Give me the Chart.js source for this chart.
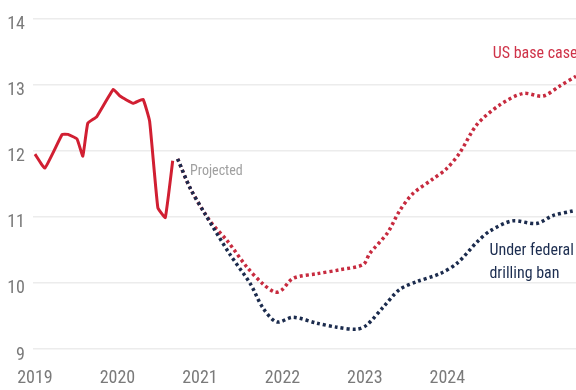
<!DOCTYPE html>
<html>
<head>
<meta charset="utf-8">
<script src="https://cdn.jsdelivr.net/npm/chart.js@4"></script>
<style>
  html, body { margin: 0; padding: 0; background: #fff; }
  #wrap { width: 576px; height: 390px; position: relative; }
</style>
</head>
<body>
<div id="wrap"><canvas id="chart"></canvas></div>
<script>
// values (x in decimal years)
const histX = [2019.0, 2019.12, 2019.33, 2019.4, 2019.51, 2019.58, 2019.64, 2019.75, 2019.95, 2020.03, 2020.19, 2020.31, 2020.39, 2020.49, 2020.58, 2020.67];
const histY = [11.95, 11.74, 12.25, 12.25, 12.18, 11.92, 12.42, 12.52, 12.93, 12.83, 12.72, 12.78, 12.45, 11.14, 10.99, 11.85];

const baseX = [2020.73, 2020.88, 2021.12, 2021.33, 2021.57, 2021.76, 2021.91, 2021.99, 2022.13, 2022.42, 2022.7, 2022.98, 2023.06, 2023.27, 2023.42, 2023.58, 2023.82, 2023.99, 2024.15, 2024.36, 2024.64, 2024.92, 2025.16, 2025.36, 2025.56];
const baseY = [11.88, 11.44, 10.94, 10.64, 10.24, 9.99, 9.86, 9.89, 10.07, 10.14, 10.2, 10.28, 10.45, 10.75, 11.09, 11.35, 11.57, 11.73, 11.97, 12.4, 12.7, 12.87, 12.83, 12.98, 13.13];

const banX = [2020.73, 2020.88, 2021.06, 2021.36, 2021.61, 2021.76, 2021.93, 2022.13, 2022.42, 2022.66, 2022.9, 2023.02, 2023.22, 2023.42, 2023.63, 2023.91, 2024.12, 2024.36, 2024.52, 2024.79, 2025.08, 2025.28, 2025.52];
const banY = [11.88, 11.44, 11.05, 10.44, 9.99, 9.63, 9.41, 9.48, 9.39, 9.33, 9.3, 9.36, 9.63, 9.9, 10.02, 10.14, 10.3, 10.62, 10.79, 10.94, 10.9, 11.02, 11.09];

const yearTicks = [2019, 2020, 2021, 2022, 2023, 2024];

const FONT = '"Liberation Sans Narrow", "Roboto Condensed", "DejaVu Sans Condensed", sans-serif';

function pts(xs, ys) {
    return xs.map((x, i) => ({ x: x, y: ys[i] }));
}

// text labels placed in data coordinates
const notes = [
    { text: 'Projected', x: 2020.88, y: 11.69, color: '#a0a0a0', size: 14 },
    { text: 'US base case', x: 2024.55, y: 13.47, color: '#cf3349', size: 16 },
    { text: 'Under federal', x: 2024.51, y: 10.49, color: '#1c2d50', size: 16 },
    { text: 'drilling ban', x: 2024.51, y: 10.14, color: '#1c2d50', size: 16 }
];

const notePlugin = {
    id: 'notes',
    afterDatasetsDraw(chart) {
        const c = chart.ctx;
        const xs = chart.scales.x, ys = chart.scales.y;
        c.save();
        c.textBaseline = 'middle';
        c.textAlign = 'left';
        notes.forEach(n => {
            c.font = n.size + 'px ' + FONT;
            c.fillStyle = n.color;
            c.fillText(n.text, xs.getPixelForValue(n.x), ys.getPixelForValue(n.y));
        });
        c.restore();
    }
};

const ctx = document.getElementById('chart').getContext('2d');
new Chart(ctx, {
    type: 'line',
    data: {
        datasets: [
            {
                label: 'Historical',
                data: pts(histX, histY),
                borderColor: '#d11f32',
                borderWidth: 3,
                pointRadius: 0,
                tension: 0.1,
                fill: false
            },
            {
                label: 'Under federal drilling ban',
                data: pts(banX, banY),
                borderColor: '#1b2b4d',
                borderWidth: 3.5,
                borderDash: [3, 3],
                pointRadius: 0,
                tension: 0.3,
                fill: false
            },
            {
                label: 'US base case',
                data: pts(baseX, baseY),
                borderColor: '#c72b3f',
                borderWidth: 3.5,
                borderDash: [3, 3],
                pointRadius: 0,
                tension: 0.3,
                fill: false
            }
        ]
    },
    options: {
        responsive: true,
        maintainAspectRatio: false,
        animation: false,
        layout: { padding: { top: 17, right: 0, left: 0, bottom: 0 } },
        plugins: {
            legend: { display: false },
            tooltip: { enabled: false }
        },
        scales: {
            x: {
                type: 'linear',
                min: 2018.976,
                max: 2025.56,
                afterBuildTicks: s => { s.ticks = yearTicks.map(v => ({ value: v })); },
                afterFit: s => { s.height = 41; },
                grid: { display: false },
                border: { display: false },
                ticks: {
                    padding: 11,
                    maxRotation: 0,
                    autoSkip: false,
                    color: '#7a7a7a',
                    font: { family: FONT, size: 18 },
                    callback: v => String(v)
                }
            },
            y: {
                min: 9,
                max: 14,
                afterFit: s => { s.width = 33; },
                border: { display: false },
                grid: { color: '#ececec', lineWidth: 1.5, drawTicks: false },
                ticks: {
                    stepSize: 1,
                    padding: 8,
                    labelOffset: 6,
                    color: '#7a7a7a',
                    font: { family: FONT, size: 18 }
                }
            }
        }
    },
    plugins: [notePlugin]
});
</script>
</body>
</html>
